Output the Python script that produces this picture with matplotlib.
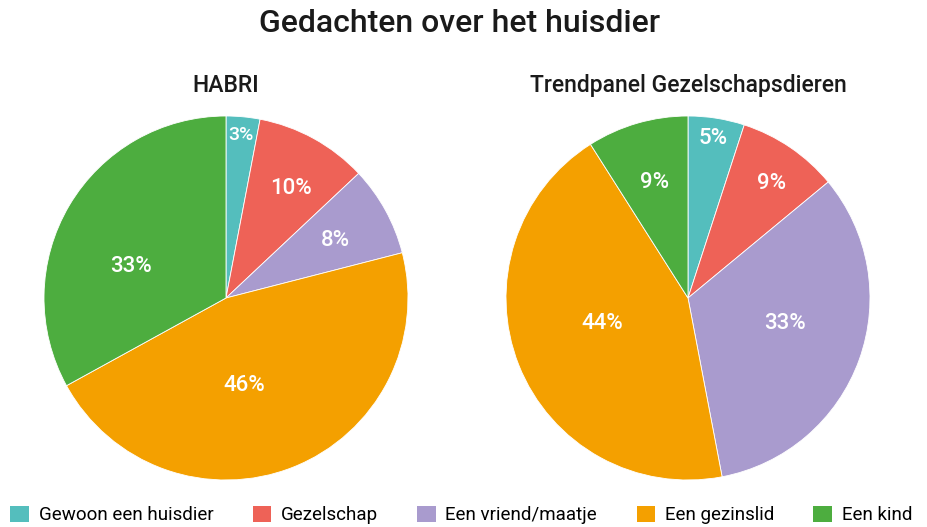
"""
Gedachten over het huisdier: two pies side by side
"""

import matplotlib
matplotlib.use('Agg')
import matplotlib.pyplot as plt
import numpy as np
from matplotlib.patches import Patch

plt.rcParams['font.family'] = ['Roboto', 'DejaVu Sans']

# data
categories = ['Gewoon een huisdier', 'Gezelschap', 'Een vriend/maatje', 'Een gezinslid', 'Een kind']
habri = [3, 10, 8, 46, 33]
trendpanel = [5, 9, 33, 44, 9]
titles = ['HABRI', 'Trendpanel Gezelschapsdieren']

COLORS = ['#54BEBD', '#EE6257', '#A99BCE', '#F4A000', '#4DAD3F']

# label placement per slice: distance from centre (fraction of radius), angle tweak (deg)
LABEL_R = [
    [0.9, 0.7, 0.68, 0.49, 0.55],
    [0.89, 0.78, 0.55, 0.49, 0.66],
]
LABEL_DA = [
    [0, -2, -1, -10, 12],
    [0, -2, 5, -5, 0],
]


def draw_pie(ax, values, title, label_r, label_da):
    ax.pie(values, colors=COLORS, startangle=90, counterclock=False,
           radius=1, wedgeprops=dict(edgecolor='white', linewidth=0.6))
    total = float(sum(values))
    cum = 0.0
    for v, r, da in zip(values, label_r, label_da):
        mid = 90 - 360 * (cum + v / 2) / total + da
        cum += v
        a = np.deg2rad(mid)
        ax.text(r * np.cos(a), r * np.sin(a), f'{v}%', ha='center', va='center',
                color='white', fontsize=16 if v >= 5 else 14, fontweight='medium')
    ax.set_xlim(-1, 1)
    ax.set_ylim(-1, 1)
    ax.set_aspect('equal')
    ax.axis('off')
    ax.text(0, 1.165, title, ha='center', va='center', fontsize=16.5,
            fontweight='medium', color='#1a1a1a')


fig = plt.figure(figsize=(9.28, 5.27), dpi=100)
fig.patch.set_facecolor('white')

W, H = 928, 527
R = 182
centres = [(226, 298), (688, 298)]
for (cx, cy), vals, title, lr, da in zip(centres, [habri, trendpanel], titles, LABEL_R, LABEL_DA):
    ax = fig.add_axes([(cx - R) / W, (H - cy - R) / H, 2 * R / W, 2 * R / H])
    draw_pie(ax, vals, title, lr, da)

fig.text(0.495, 1 - 24 / H, 'Gedachten over het huisdier', ha='center', va='center',
         fontsize=23, fontweight='medium', color='#1a1a1a')

handles = [Patch(facecolor=c, edgecolor='none') for c in COLORS]
fig.legend(handles, categories, loc='center', bbox_to_anchor=(0.497, 1 - 515 / H),
           ncol=5, frameon=False, fontsize=13.5, handlelength=1.0, handleheight=1.0,
           handletextpad=0.5, columnspacing=2.1)

fig.savefig('out.png', dpi=100)
